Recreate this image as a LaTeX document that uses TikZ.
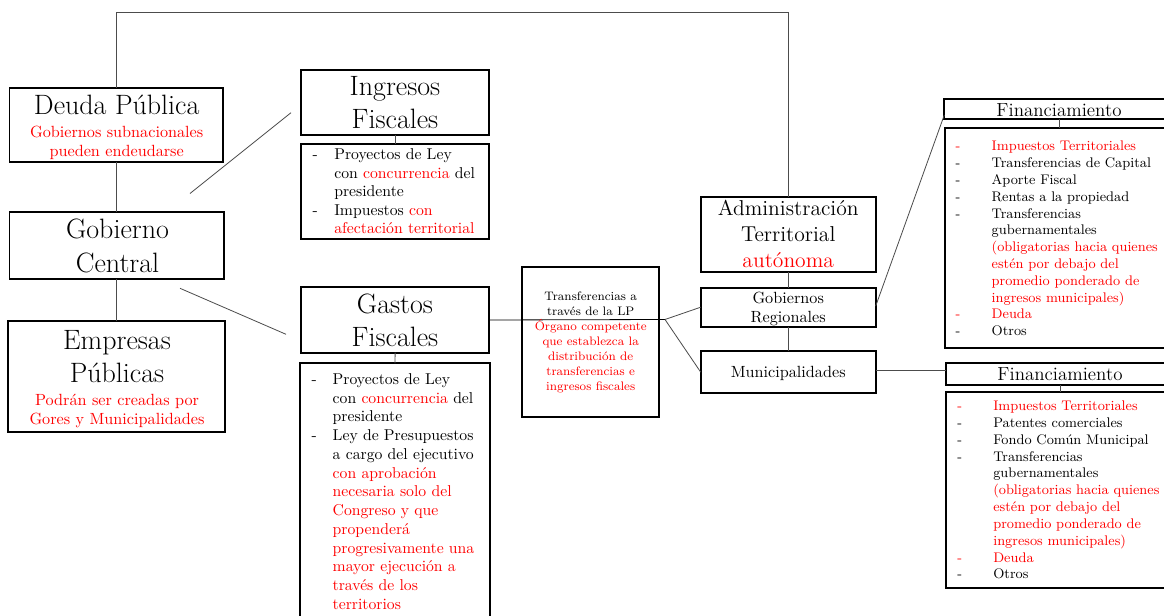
\documentclass[tikz,border=0pt]{standalone}
\usetikzlibrary{fit,calc}
\definecolor{conncol}{gray}{0.3}
\tikzset{
  box/.style={draw=black, line width=1.0pt, rectangle, inner sep=0pt, outer sep=0pt},
  conn/.style={draw=conncol, line width=0.5pt},
  txt/.style={inner sep=0pt, outer sep=0pt, anchor=base},
  txl/.style={inner sep=0pt, outer sep=0pt, anchor=base west},
  bigf/.style={font=\fontsize{17.28}{20}\selectfont},
  subf/.style={font=\fontsize{10}{12}\selectfont},
  lstf/.style={font=\fontsize{9.7}{11.6}\selectfont},
  trf/.style={font=\fontsize{7.6}{9}\selectfont},
  admf/.style={font=\fontsize{13.3}{16}\selectfont},
  regf/.style={font=\fontsize{10}{12}\selectfont},
  finhf/.style={font=\fontsize{11.7}{14}\selectfont},
  finf/.style={font=\fontsize{8.6}{10.4}\selectfont},
}
\begin{document}
\begin{tikzpicture}[x=0.6173pt,y=-0.6173pt]
\useasboundingbox (0,0) rectangle (1164,616);
\clip (0,0) rectangle (1164,616);

% ---------- boxes ----------
\node[box, fit={(9.5,88) (222.7,162.3)}] (deuda) {};
\node[box, fit={(9.5,211.7) (224.3,279.3)}] (gob) {};
\node[box, fit={(8.3,320.7) (225.3,432)}] (emp) {};
\node[box, fit={(301,70) (489.3,135)}] (ingT) {};
\node[box, fit={(301,144) (489.3,239.3)}] (ingL) {};
\node[box, fit={(301,287.3) (489.3,352.7)}] (gasT) {};
\node[box, fit={(300,363.3) (490,640)}] (gasL) {};
\node[box, fit={(521.7,266.7) (659.3,417.3)}] (trans) {};
\node[box, fit={(700.7,196.7) (875.7,272)}] (admin) {};
\node[box, fit={(700.7,287.7) (875.7,326.7)}] (greg) {};
\node[box, fit={(700.7,351) (875.7,393.3)}] (muni) {};
\node[box, fit={(944.3,99.3) (1174,119.3)}] (fin1) {};
\node[box, fit={(945,128.3) (1174,348.3)}] (fin1L) {};
\node[box, fit={(946,363.3) (1175,385)}] (fin2) {};
\node[box, fit={(946,391.7) (1175,587.7)}] (fin2L) {};

% ---------- connectors ----------
\coordinate (topY) at (117,12);
\draw[conn] (deuda.north) |- (admin.north |- topY) -- (admin.north);
\draw[conn] (deuda.south) -- (deuda.south |- gob.north);
\draw[conn] (gob.south) -- (gob.south |- emp.north);
\coordinate (d1a) at (190,193.5);
\coordinate (d1b) at (291,112.7);
\draw[conn] (d1a) -- (d1b);
\coordinate (d2a) at (180,288.3);
\coordinate (d2b) at (286,334.3);
\draw[conn] (d2a) -- (d2b);
\draw[conn] (ingT.south) -- (ingL.north);
\draw[conn] (gasT.south) -- (gasL.north);
\coordinate (hub) at (665,319.5);
\draw[conn, draw=black] (gasT.east) -- (hub);
\draw[conn] (hub) -- (greg.west);
\draw[conn] (hub) -- (muni.west);
\draw[conn] (admin.south) -- (greg.north);
\draw[conn] (greg.south) -- (muni.north);
\draw[conn] ([yshift=0.7pt]greg.east) -- ([yshift=-3.5pt]fin1.west);
\draw[conn] ([yshift=0.9pt]muni.east) -- ([yshift=0.9pt]muni.east -| fin2.west);
\draw[conn] (fin1.south -| 1059,0) -- (fin1L.north -| 1059,0);
\draw[conn] (fin2.south -| 1060,0) -- (fin2L.north -| 1060,0);

% ---------- left column ----------
\node[txt,bigf] (deudaT) at (116.7,115) {Deuda Pública};
\node[txt,subf,red] (deudaS1) at (116.7,137.7) {Gobiernos subnacionales};
\node[txt,subf,red] (deudaS2) at (116.7,156.7) {pueden endeudarse};

\node[txt,bigf] (gobT1) at (117.5,238.3) {Gobierno};
\node[txt,bigf] (gobT2) at (117.5,272.7) {Central};

\node[txt,bigf] (empT1) at (117,349.3) {Empresas};
\node[txt,bigf] (empT2) at (117,382.7) {Públicas};
\node[txt,subf,red] (empS1) at (117,406) {Podrán ser creadas por};
\node[txt,subf,red] (empS2) at (117,425) {Gores y Municipalidades};

% ---------- ingresos ----------
\node[txt,bigf] (ingT1) at (395,95.7) {Ingresos};
\node[txt,bigf] (ingT2) at (395,129) {Fiscales};
\node[txl,lstf] (ingD1) at (312.5,160) {-};
\node[txl,lstf] (ingL1) at (334.3,160) {Proyectos de Ley};
\node[txl,lstf] (ingL2) at (334.3,178.5) {con \textcolor{red}{concurrencia} del};
\node[txl,lstf] (ingL3) at (334.3,197) {presidente};
\node[txl,lstf] (ingD2) at (312.5,215.5) {-};
\node[txl,lstf] (ingL4) at (334.3,215.5) {Impuestos \textcolor{red}{con}};
\node[txl,lstf,red] (ingL5) at (334.3,234) {afectación territorial};

% ---------- gastos ----------
\node[txt,bigf] (gasT1) at (395,313.3) {Gastos};
\node[txt,bigf] (gasT2) at (395,346.7) {Fiscales};
\node[txl,lstf] (gasD1) at (311.5,384.3) {-};
\node[txl,lstf] (gasL1) at (332.7,384.3) {Proyectos de Ley};
\node[txl,lstf] (gasL2) at (332.7,403.05) {con \textcolor{red}{concurrencia} del};
\node[txl,lstf] (gasL3) at (332.7,421.8) {presidente};
\node[txl,lstf] (gasD2) at (311.5,440.55) {-};
\node[txl,lstf] (gasL4) at (332.7,440.55) {Ley de Presupuestos};
\node[txl,lstf] (gasL5) at (332.7,459.3) {a cargo del ejecutivo};
\node[txl,lstf,red] (gasL6) at (332.7,478.05) {con aprobación};
\node[txl,lstf,red] (gasL7) at (332.7,496.8) {necesaria solo del};
\node[txl,lstf,red] (gasL8) at (332.7,515.55) {Congreso y que};
\node[txl,lstf,red] (gasL9) at (332.7,534.3) {propenderá};
\node[txl,lstf,red] (gasL10) at (332.7,553.05) {progresivamente una};
\node[txl,lstf,red] (gasL11) at (332.7,571.8) {mayor ejecución a};
\node[txl,lstf,red] (gasL12) at (332.7,590.55) {través de los};
\node[txl,lstf,red] (gasL13) at (332.7,609.3) {territorios};

% ---------- transferencias ----------
\node[txt,trf] (tr1) at (590.7,301) {Transferencias a};
\node[txt,trf] (tr2) at (590.7,315.9) {través de la LP};
\node[txt,trf,red] (tr3) at (590.7,330.8) {Órgano competente};
\node[txt,trf,red] (tr4) at (590.7,345.7) {que establezca la};
\node[txt,trf,red] (tr5) at (590.7,360.6) {distribución de};
\node[txt,trf,red] (tr6) at (590.7,375.5) {transferencias e};
\node[txt,trf,red] (tr7) at (590.7,390.4) {ingresos fiscales};

% ---------- administración ----------
\node[txt,admf] (ad1) at (788.2,215.7) {Administración};
\node[txt,admf] (ad2) at (788.2,241.7) {Territorial};
\node[txt,admf,red] (ad3) at (788.2,267.3) {autónoma};
\node[txt,regf] (gr1) at (788.2,303.3) {Gobiernos};
\node[txt,regf] (gr2) at (788.2,322.7) {Regionales};
\node[txt,regf] (mu1) at (788.2,377.3) {Municipalidades};

% ---------- financiamiento 1 ----------
\node[txt,finhf] (fh1) at (1059,116.7) {Financiamiento};
\node[txl,finf,red] (fa0) at (955.5,151) {-};
\node[txl,finf,red] (fa1) at (991.7,151) {Impuestos Territoriales};
\node[txl,finf] (fb0) at (955.5,167.8) {-};
\node[txl,finf] (fb1) at (991.7,167.8) {Transferencias de Capital};
\node[txl,finf] (fc0) at (955.5,184.6) {-};
\node[txl,finf] (fc1) at (991.7,184.6) {Aporte Fiscal};
\node[txl,finf] (fd0) at (955.5,201.4) {-};
\node[txl,finf] (fd1) at (991.7,201.4) {Rentas a la propiedad};
\node[txl,finf] (fe0) at (955.5,218.2) {-};
\node[txl,finf] (fe1) at (991.7,218.2) {Transferencias};
\node[txl,finf] (fe2) at (991.7,235) {gubernamentales};
\node[txl,finf,red] (fe3) at (991.7,251.8) {(obligatorias hacia quienes};
\node[txl,finf,red] (fe4) at (991.7,268.6) {estén por debajo del};
\node[txl,finf,red] (fe5) at (991.7,285.4) {promedio ponderado de};
\node[txl,finf,red] (fe6) at (991.7,302.2) {ingresos municipales)};
\node[txl,finf,red] (ff0) at (955.5,319) {-};
\node[txl,finf,red] (ff1) at (991.7,319) {Deuda};
\node[txl,finf] (fg0) at (955.5,335.8) {-};
\node[txl,finf] (fg1) at (991.7,335.8) {Otros};

% ---------- financiamiento 2 ----------
\node[txt,finhf] (fh2) at (1060,380.7) {Financiamiento};
\node[txl,finf,red] (ma0) at (957.3,410.7) {-};
\node[txl,finf,red] (ma1) at (993.3,410.7) {Impuestos Territoriales};
\node[txl,finf] (mb0) at (957.3,427.5) {-};
\node[txl,finf] (mb1) at (993.3,427.5) {Patentes comerciales};
\node[txl,finf] (mc0) at (957.3,444.4) {-};
\node[txl,finf] (mc1) at (993.3,444.4) {Fondo Común Municipal};
\node[txl,finf] (md0) at (957.3,461.2) {-};
\node[txl,finf] (md1) at (993.3,461.2) {Transferencias};
\node[txl,finf] (md2) at (993.3,478) {gubernamentales};
\node[txl,finf,red] (md3) at (993.3,494.9) {(obligatorias hacia quienes};
\node[txl,finf,red] (md4) at (993.3,511.7) {estén por debajo del};
\node[txl,finf,red] (md5) at (993.3,528.5) {promedio ponderado de};
\node[txl,finf,red] (md6) at (993.3,545.3) {ingresos municipales)};
\node[txl,finf,red] (me0) at (957.3,562.2) {-};
\node[txl,finf,red] (me1) at (993.3,562.2) {Deuda};
\node[txl,finf] (mf0) at (957.3,579) {-};
\node[txl,finf] (mf1) at (993.3,579) {Otros};
\end{tikzpicture}
\end{document}
